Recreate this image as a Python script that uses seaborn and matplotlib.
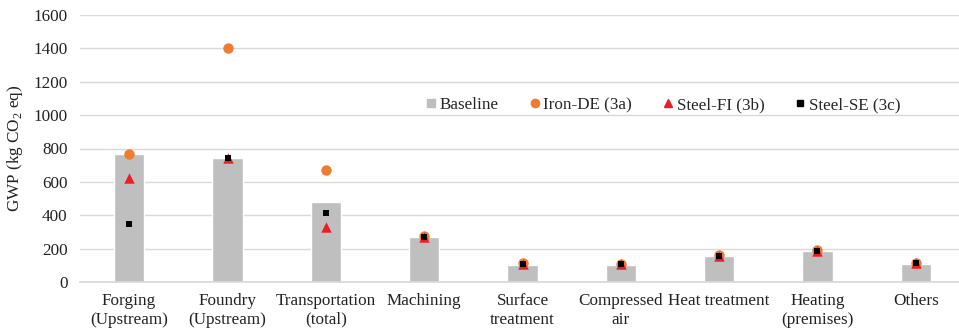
import matplotlib
matplotlib.use("Agg")
import matplotlib.pyplot as plt
from matplotlib.lines import Line2D
import seaborn as sns
import pandas as pd

categories = ["Forging\n(Upstream)", "Foundry\n(Upstream)", "Transportation\n(total)",
              "Machining", "Surface\ntreatment", "Compressed\nair", "Heat treatment",
              "Heating\n(premises)", "Others"]
baseline = [765, 742, 481, 270, 100, 100, 157, 183, 108]
iron_de = [765, 1403, 670, 276, 112, 110, 162, 192, 116]
steel_fi = [625, 742, 330, 270, 106, 106, 157, 186, 112]
steel_se = [345, 742, 412, 270, 106, 106, 157, 186, 112]
y_ticks = [0, 200, 400, 600, 800, 1000, 1200, 1400, 1600]

sns.set_theme(style="white")
plt.rcParams["font.family"] = ["Liberation Serif", "DejaVu Serif"]
plt.rcParams["mathtext.fontset"] = "custom"
plt.rcParams["mathtext.rm"] = "Liberation Serif"

FS = 12.3
TXT = "#222222"

df = pd.DataFrame({"cat": categories, "Baseline": baseline, "Iron-DE (3a)": iron_de,
                   "Steel-FI (3b)": steel_fi, "Steel-SE (3c)": steel_se})

fig = plt.figure(figsize=(9.59, 3.33), dpi=100)
ax = fig.add_axes([80 / 959, 51 / 333, 885 / 959, 267 / 333])

sns.barplot(data=df, x="cat", y="Baseline", color="#bfbfbf", width=0.31,
            saturation=1, ax=ax, zorder=2)
sns.stripplot(data=df, x="cat", y="Iron-DE (3a)", color="#ed7d31", marker="o",
              size=7.5, jitter=False, linewidth=0, ax=ax, zorder=3)
sns.stripplot(data=df, x="cat", y="Steel-FI (3b)", color="#ee1c25", marker="^",
              size=7.5, jitter=False, linewidth=0, ax=ax, zorder=4)
sns.stripplot(data=df, x="cat", y="Steel-SE (3c)", color="#000000", marker="s",
              size=5, jitter=False, linewidth=0, ax=ax, zorder=5)

ax.set_xlim(-0.5, len(categories) - 0.5)
ax.set_ylim(0, 1600)
ax.set_yticks(y_ticks)
ax.yaxis.grid(True, color="#d9d9d9", linewidth=1)
ax.set_axisbelow(True)
for side in ["top", "right", "left"]:
    ax.spines[side].set_visible(False)
ax.spines["bottom"].set_color("#d9d9d9")
ax.tick_params(axis="both", length=0, labelsize=FS, colors=TXT)
ax.tick_params(axis="x", pad=8)
ax.tick_params(axis="y", pad=9)
for lbl in ax.get_xticklabels():
    lbl.set_multialignment("center")
ax.set_xlabel("")
ax.set_ylabel(r"GWP (kg CO$_2$ eq)", fontsize=FS, color=TXT, labelpad=6)

handles = [
    Line2D([], [], linestyle="none", marker="s", color="#bfbfbf", markersize=6),
    Line2D([], [], linestyle="none", marker="o", color="#ed7d31", markersize=6),
    Line2D([], [], linestyle="none", marker="^", color="#ee1c25", markersize=6),
    Line2D([], [], linestyle="none", marker="s", color="#000000", markersize=4),
]
labels = ["Baseline", "Iron-DE (3a)", "Steel-FI (3b)", "Steel-SE (3c)"]
fig.legend(handles, labels, loc="center", bbox_to_anchor=(662 / 959, 1 - 105 / 333),
           ncol=4, frameon=False, fontsize=FS, handletextpad=0.05,
           columnspacing=1.65, handlelength=0.9)

fig.savefig("out.png", dpi=100)
